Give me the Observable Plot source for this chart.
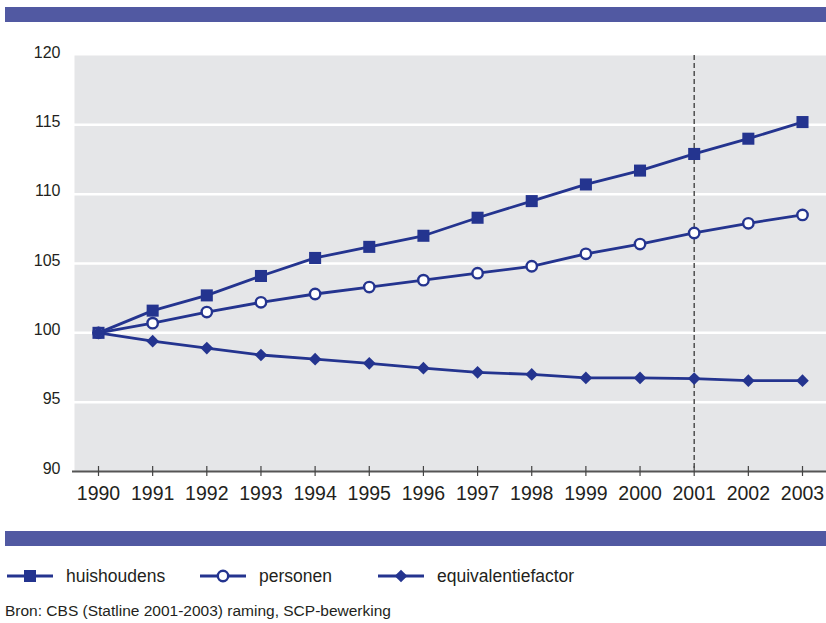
<!DOCTYPE html>
<html>
<head>
<meta charset="utf-8">
<script src="https://cdn.jsdelivr.net/npm/d3@7"></script>
<script src="https://cdn.jsdelivr.net/npm/@observablehq/plot@0.6"></script>
<style>
  html, body { margin: 0; padding: 0; background: #fff; }
  body { width: 826px; height: 623px; overflow: hidden; font-family: "Liberation Sans", Arial, sans-serif; color: #231f20; }
  .bar { background: #5159a2; margin-left: 5px; height: 15px; }
  #top { margin-top: 7px; }
  #chart svg { display: block; }
  #legend { margin-top: 20px; height: 20px; line-height: 20px; font-size: 17.5px; position: relative; }
  .item { position: absolute; top: 0; display: flex; align-items: center; height: 20px; }
  .item svg { margin-right: 13px; }
  #caption { margin-top: 16px; margin-left: 5px; font-size: 15.5px; line-height: 18px; }
</style>
</head>
<body>
<div class="bar" id="top"></div>
<div id="chart"></div>
<div class="bar" id="bottom"></div>
<div id="legend"></div>
<div id="caption">Bron: CBS (Statline 2001-2003) raming, SCP-bewerking</div>
<script>
const years = [1990,1991,1992,1993,1994,1995,1996,1997,1998,1999,2000,2001,2002,2003];
const huishoudens = [100,101.6,102.7,104.1,105.4,106.2,107.0,108.3,109.5,110.7,111.7,112.9,114.0,115.2];
const personen = [100,100.7,101.5,102.2,102.8,103.3,103.8,104.3,104.8,105.7,106.4,107.2,107.9,108.5];
const equivalentiefactor = [100,99.4,98.9,98.4,98.1,97.8,97.45,97.15,97.0,96.75,96.75,96.7,96.55,96.55];
const yTicks = [90,95,100,105,110,115,120];
const gridTicks = [95,100,105,110,115];
const projectionYear = [2001];
const seriesNames = ["huishoudens","personen","equivalentiefactor"];

const navy = "#24348f";
const toRows = vals => years.map((y, i) => ({year: y, value: vals[i]}));
const hh = toRows(huishoudens), ps = toRows(personen), eq = toRows(equivalentiefactor);

const chart = Plot.plot({
  width: 826,
  height: 509,
  marginLeft: 74,
  marginRight: 0,
  marginTop: 33,
  marginBottom: 60,
  style: {fontFamily: "Liberation Sans, Arial, sans-serif", color: "#231f20", background: "transparent"},
  x: {type: "linear", domain: [1990, 2003], insetLeft: 24, insetRight: 24},
  y: {domain: [90, 120]},
  marks: [
    Plot.frame({fill: "#e5e6e8", stroke: "none"}),
    Plot.gridY(gridTicks, {stroke: "white", strokeOpacity: 1, strokeWidth: 2.5}),
    Plot.ruleX(projectionYear, {stroke: "#444", strokeWidth: 1.4, strokeDasharray: "5,3"}),
    Plot.ruleY([90], {stroke: "#555", strokeWidth: 1.8, insetLeft: -2}),
    Plot.ruleX(years, {x: d => d, y1: 90, y2: 90, insetTop: -5, insetBottom: -5, stroke: "#444", strokeWidth: 1.2}),
    Plot.axisY({ticks: yTicks, tickSize: 0, tickPadding: 14, fontSize: 16, dy: -3, label: null, fill: "#231f20"}),
    Plot.axisX({ticks: years, tickFormat: d => String(d), tickSize: 0, tickPadding: 15, fontSize: 19.5, label: null, fill: "#231f20"}),
    Plot.line(eq, {x: "year", y: "value", stroke: navy, strokeWidth: 2.8}),
    Plot.line(ps, {x: "year", y: "value", stroke: navy, strokeWidth: 2.8}),
    Plot.line(hh, {x: "year", y: "value", stroke: navy, strokeWidth: 2.8}),
    Plot.dot(hh, {x: "year", y: "value", symbol: "square", r: 6.8, fill: navy, stroke: "none"}),
    Plot.dot(ps, {x: "year", y: "value", symbol: "circle", r: 5.2, fill: "white", stroke: navy, strokeWidth: 2.4}),
    Plot.dot(eq, {x: "year", y: "value", symbol: "diamond2", r: 5.7, fill: navy, stroke: "none"})
  ]
});
document.getElementById("chart").appendChild(chart);

// Legend
const legend = d3.select("#legend");
const legendX = [7, 200, 378];
const symbols = ["square", "circle", "diamond"];
seriesNames.forEach((name, i) => {
  const item = legend.append("div").attr("class", "item").style("left", legendX[i] + "px");
  const svg = item.append("svg").attr("width", 46).attr("height", 20);
  svg.append("line").attr("x1", 0).attr("x2", 46).attr("y1", 10).attr("y2", 10)
    .attr("stroke", navy).attr("stroke-width", 2.8);
  if (symbols[i] === "square") {
    svg.append("rect").attr("x", 17).attr("y", 4).attr("width", 12).attr("height", 12).attr("fill", navy);
  } else if (symbols[i] === "circle") {
    svg.append("circle").attr("cx", 23).attr("cy", 10).attr("r", 5.2).attr("fill", "white")
      .attr("stroke", navy).attr("stroke-width", 2.4);
  } else {
    svg.append("path").attr("d", d3.symbol(d3.symbolDiamond2, Math.PI * 5.7 * 5.7)())
      .attr("transform", "translate(23,10)").attr("fill", navy);
  }
  item.append("span").text(name);
});
</script>
</body>
</html>
